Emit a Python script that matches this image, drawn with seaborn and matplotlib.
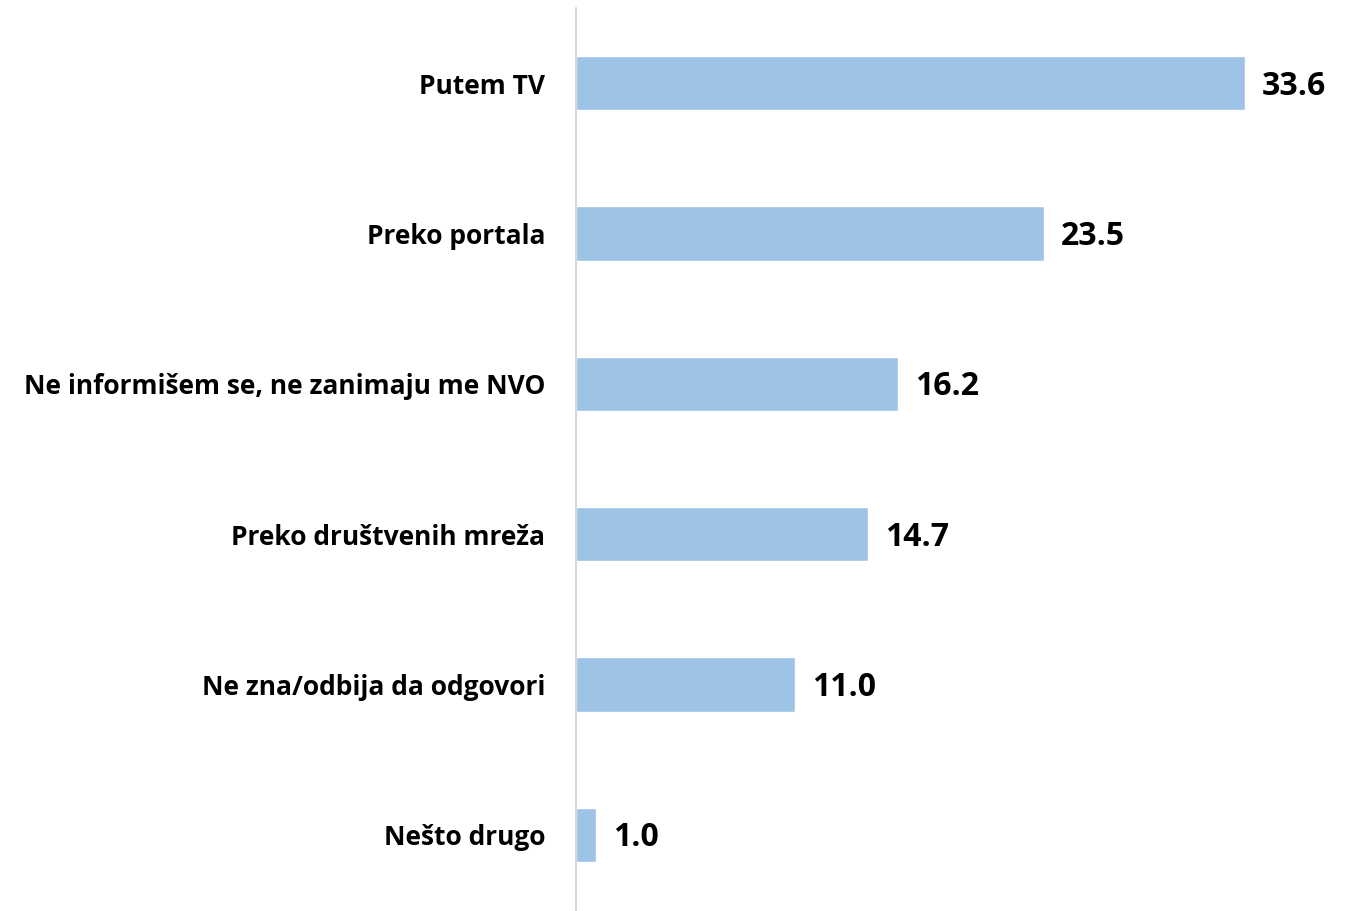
import matplotlib
matplotlib.use("Agg")
import matplotlib.pyplot as plt
import seaborn as sns
import pandas as pd

categories = ["Putem TV", "Preko portala", "Ne informišem se, ne zanimaju me NVO",
              "Preko društvenih mreža", "Ne zna/odbija da odgovori", "Nešto drugo"]
values = [33.6, 23.5, 16.2, 14.7, 11.0, 1.0]

df = pd.DataFrame({"cat": categories, "val": values})

sns.set_theme(style="white")
plt.rcParams['font.family'] = ['Open Sans', 'DejaVu Sans']

fig = plt.figure(figsize=(13.45, 9.11), dpi=100)
ax = fig.add_axes([576 / 1345, 1 - 910 / 911, (1340 - 576) / 1345, 902 / 911])

sns.barplot(data=df, x="val", y="cat", color="#9DC3E6", saturation=1, width=0.36, ax=ax)

ax.set_xlim(0, 38.4)
ax.set_ylim(5.5, -0.5)
ax.set_xlabel("")
ax.set_ylabel("")
ax.set_xticks([])
for s in ["top", "right", "bottom"]:
    ax.spines[s].set_visible(False)
ax.spines["left"].set_color("#D0D0D0")
ax.spines["left"].set_linewidth(1.2)
ax.tick_params(axis="y", length=0, pad=22)
for lbl in ax.get_yticklabels():
    lbl.set_fontsize(19)
    lbl.set_fontweight("bold")
    lbl.set_color("black")

for i, v in enumerate(values):
    ax.text(v + 0.85, i + 0.02, f"{v:.1f}", va="center", ha="left",
            fontsize=23, fontweight="bold", color="black")

fig.savefig("out.png", dpi=100)
